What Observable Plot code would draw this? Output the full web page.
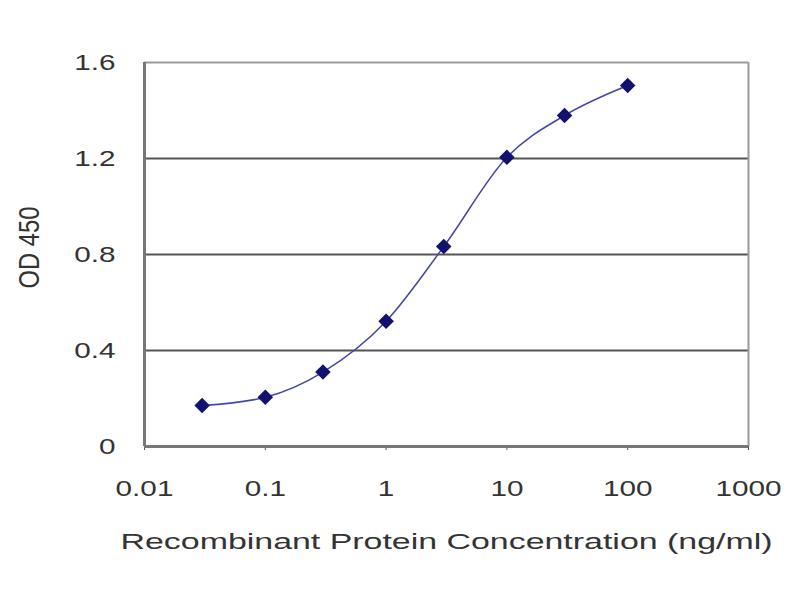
<!DOCTYPE html>
<html>
<head>
<meta charset="utf-8">
<script src="https://cdn.jsdelivr.net/npm/d3@7"></script>
<script src="https://cdn.jsdelivr.net/npm/@observablehq/plot@0.6"></script>
<style>
  body { margin: 0; background: #fff; }
  #chart { width: 800px; height: 600px; }
</style>
</head>
<body>
<div id="chart"></div>
<script>
// concentraciones (ng/ml) y lecturas OD 450
const concentration = [0.03, 0.1, 0.3, 1, 3, 10, 30, 100]
const od450 = [0.171, 0.205, 0.31, 0.522, 0.833, 1.205, 1.379, 1.504]
const xTicks = [0.01, 0.1, 1, 10, 100, 1000]
const xTickLabels = ["0.01", "0.1", "1", "10", "100", "1000"]
const yTicks = [0, 0.4, 0.8, 1.2, 1.6]
const yTickLabels = ["0", "0.4", "0.8", "1.2", "1.6"]

const data = concentration.map((c, i) => ({ conc: c, od: od450[i] }))
const labelFor = (ticks, labels) => d => labels[ticks.findIndex(t => Math.abs(t - d) <= 1e-9 * Math.max(1, Math.abs(t)))]

let chart = Plot.plot({
  width: 800,
  height: 600,
  marginLeft: 144,
  marginRight: 52,
  marginTop: 62,
  marginBottom: 154,
  style: { fontFamily: "Liberation Sans, Arial, sans-serif", fontSize: "22px", color: "#333" },
  x: { type: "log", domain: [0.01, 1000] },
  y: { domain: [0, 1.6] },
  marks: [
    Plot.ruleY(yTicks.slice(1, -1), { stroke: "#555", strokeWidth: 2 }),
    Plot.ruleY([1.6], { stroke: "#999", strokeWidth: 2 }),
    Plot.ruleX([1000], { stroke: "#999", strokeWidth: 2 }),
    Plot.axisX({
      ticks: xTicks,
      tickFormat: labelFor(xTicks, xTickLabels),
      tickSize: 4,
      tickPadding: 30,
      stroke: "#555",
      fontSize: 22,
      label: null
    }),
    Plot.axisX({
      ticks: [],
      label: "Recombinant Protein Concentration (ng/ml)",
      labelAnchor: "center",
      labelArrow: false,
      labelOffset: 102,
      fontSize: 22
    }),
    Plot.axisY({
      ticks: yTicks,
      tickFormat: labelFor(yTicks, yTickLabels),
      tickSize: 0,
      tickPadding: 29,
      fontSize: 22,
      label: null
    }),
    Plot.axisY({
      ticks: [],
      label: "OD 450",
      labelAnchor: "center",
      labelArrow: false,
      labelOffset: 127,
      fontSize: 30
    }),
    Plot.ruleY([0], { stroke: "#777", strokeWidth: 3 }),
    Plot.ruleX([0.01], { stroke: "#777", strokeWidth: 3 }),
    Plot.line(data, { x: "conc", y: "od", curve: "monotone-x", stroke: "#4545a8", strokeWidth: 1.5 }),
    Plot.dot(data, { x: "conc", y: "od", symbol: "diamond2", r: 7, fill: "#12126e", stroke: "none" })
  ]
})

d3.select('#chart').append(() => chart)

// el original está estirado en horizontal: se ajusta el ancho de los textos
d3.select(chart).selectAll("text").each(function () {
  const t = this.textContent
  if (!t) return
  const len = this.getComputedTextLength()
  let target = len * 1.35
  if (t.startsWith("Recombinant")) target = 652
  if (t === "OD 450") {
    target = 82
    d3.select(this).attr("dx", 7)
  }
  d3.select(this).attr("textLength", target).attr("lengthAdjust", "spacingAndGlyphs")
})
</script>
</body>
</html>
